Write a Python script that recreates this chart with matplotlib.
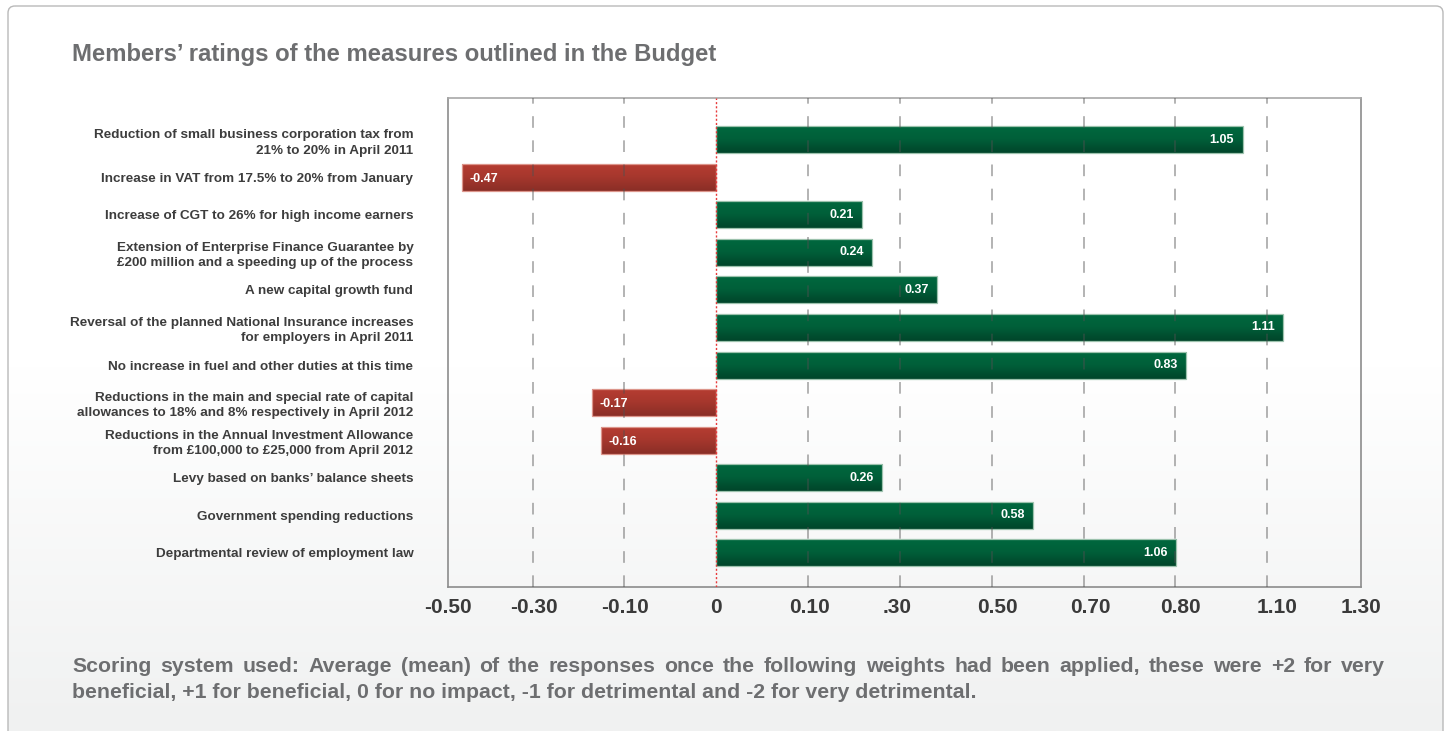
import numpy as np
import matplotlib
matplotlib.use("Agg")
import matplotlib.pyplot as plt
from matplotlib.patches import FancyBboxPatch
from matplotlib.colors import LinearSegmentedColormap

plt.rcParams['font.family'] = ['Liberation Sans', 'DejaVu Sans']
plt.rcParams['font.weight'] = 'bold'

# --- data ---
title = "Members’ ratings of the measures outlined in the Budget"

measures = [
    "Reduction of small business corporation tax from\n21% to 20% in April 2011",
    "Increase in VAT from 17.5% to 20% from January",
    "Increase of CGT to 26% for high income earners",
    "Extension of Enterprise Finance Guarantee by\n£200 million and a speeding up of the process",
    "A new capital growth fund",
    "Reversal of the planned National Insurance increases\nfor employers in April 2011",
    "No increase in fuel and other duties at this time",
    "Reductions in the main and special rate of capital\nallowances to 18% and 8% respectively in April 2012",
    "Reductions in the Annual Investment Allowance\nfrom £100,000 to £25,000 from April 2012",
    "Levy based on banks’ balance sheets",
    "Government spending reductions",
    "Departmental review of employment law",
]

# printed ratings
ratings = ["1.05", "-0.47", "0.21", "0.24", "0.37", "1.11",
           "0.83", "-0.17", "-0.16", "0.26", "0.58", "1.06"]

# bar lengths as drawn, in gridline steps (the original axis is not linear)
bar_length = [5.73, -2.77, 1.59, 1.70, 2.40, 6.17,
              5.12, -1.35, -1.25, 1.81, 3.45, 5.01]

tick_labels = ["-0.50", "-0.30", "-0.10", "0", "0.10", ".30",
               "0.50", "0.70", "0.80", "1.10", "1.30"]
tick_pos = [-2.92, -1.98, -0.99, 0, 1.02, 1.97, 3.06, 4.07, 5.05, 6.11, 7.02]
grid_pos = [-2, -1, 1, 2, 3, 4, 5, 6]

footer_line1 = ("Scoring system used: Average (mean) of the responses once the following "
                "weights had been applied, these were +2 for very")
footer_line2 = ("beneficial, +1 for beneficial, 0 for no impact, -1 for detrimental "
                "and -2 for very detrimental.")

W, H = 1451, 731
fig = plt.figure(figsize=(W / 100, H / 100), dpi=100)
fig.patch.set_facecolor("white")

# background panel with soft vertical gradient
bg = fig.add_axes([0, 0, 1, 1], zorder=-10)
bg.axis("off")
panel = FancyBboxPatch((8, 6), W - 16, H + 20, boxstyle="round,pad=0,rounding_size=7",
                       fc="none", ec="#b9b9b9", lw=1.0)
bg.add_patch(panel)
bg_cmap = LinearSegmentedColormap.from_list("bg", ["#ffffff", "#ffffff", "#f0f1f1"])
grad = np.linspace(0, 1, 256).reshape(-1, 1)
im = bg.imshow(grad, cmap=bg_cmap, extent=(8, W - 8, H, 6), aspect="auto", origin="upper")
im.set_clip_path(panel)
bg.set_xlim(0, W)
bg.set_ylim(H, 0)

# main axes
left, right, top, bottom = 448, 1361, 97.7, 587.3
ax = fig.add_axes([left / W, 1 - bottom / H, (right - left) / W, (bottom - top) / H])
ax.set_facecolor("none")

y = np.arange(len(measures))
pos_cmap = LinearSegmentedColormap.from_list("g", ["#00693f", "#005f39", "#00452a"])
neg_cmap = LinearSegmentedColormap.from_list("r", ["#b73d32", "#a6372d", "#8a2e26"])
edge_cols = ["#9cc2ad" if v > 0 else "#dc958b" for v in bar_length]

bars = ax.barh(y, bar_length, height=0.72, color="none", edgecolor=edge_cols,
               linewidth=0.9, zorder=3)
bar_grad = np.linspace(0, 1, 64).reshape(-1, 1)
for patch, v in zip(bars.patches, bar_length):
    x0, y0 = patch.get_x(), patch.get_y()
    w, h = patch.get_width(), patch.get_height()
    img = ax.imshow(bar_grad, cmap=pos_cmap if v > 0 else neg_cmap, aspect="auto",
                    extent=(x0, x0 + w, y0 + h, y0), origin="upper", zorder=2.5)
    img.set_clip_path(patch)

# value labels inside the bars
for yi, v, lab in zip(y, bar_length, ratings):
    if v > 0:
        ax.text(v - 0.09, yi, lab, ha="right", va="center", color="white",
                fontsize=9, fontweight="bold", zorder=6)
    else:
        ax.text(v + 0.08, yi + 0.04, lab, ha="left", va="center", color="white",
                fontsize=9, fontweight="bold", zorder=6)

# grid and zero line
for g in grid_pos:
    ax.axvline(g, color="#505050", alpha=0.5, lw=1.2, dashes=(7, 7.5), zorder=5)
ax.axvline(0, color="#e8393a", lw=1.0, ls=(0, (1.5, 1.5)), zorder=5)

ax.set_xlim(-2.90, 6.98)
ax.set_ylim(len(measures) - 1 + 0.92, -1.12)

ax.set_xticks(tick_pos)
ax.set_xticklabels(tick_labels, fontsize=15, fontweight="bold", color="#3a3a3a")
ax.set_yticks(y)
ax.set_yticklabels(measures, fontsize=9.7, fontweight="bold", color="#3d3d3d",
                   linespacing=1.38)
ax.tick_params(axis="x", length=0, pad=8)
ax.tick_params(axis="y", length=0, pad=25)

for s in ax.spines.values():
    s.set_color("#8c8c8c")
    s.set_linewidth(1.2)
ax.spines["top"].set_color("#a8a8a8")

# title
fig.text(72 / W, 1 - 54 / H, title, ha="left", va="center", fontsize=17.2,
         fontweight="bold", color="#6d6e70")

# footer, first line justified to the right edge
fig.canvas.draw()
renderer = fig.canvas.get_renderer()
fs_foot = 15.3
words = footer_line1.split(" ")
x_start, x_end = 72, 1385
word_texts = [fig.text(0, 1 - 667 / H, w_, ha="left", va="center", fontsize=fs_foot,
                       fontweight="bold", color="#6d6e70") for w_ in words]
widths = [t.get_window_extent(renderer).width for t in word_texts]
gap = (x_end - x_start - sum(widths)) / (len(words) - 1)
xc = x_start
for t, wd in zip(word_texts, widths):
    t.set_x(xc / W)
    xc += wd + gap
fig.text(x_start / W, 1 - 692 / H, footer_line2, ha="left", va="center", fontsize=fs_foot,
         fontweight="bold", color="#6d6e70")

fig.savefig("out.png", dpi=100)
